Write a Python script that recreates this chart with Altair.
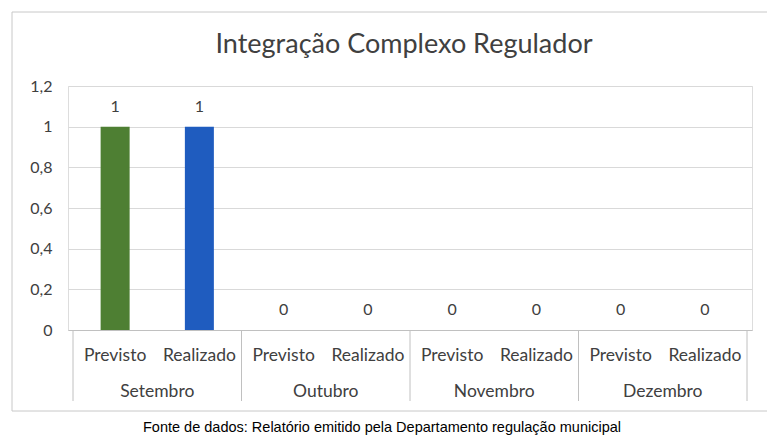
import altair as alt
import pandas as pd

months = ["Setembro", "Outubro", "Novembro", "Dezembro"]
series = ["Previsto", "Realizado"]
previsto = [1, 0, 0, 0]
realizado = [1, 0, 0, 0]
colors = ["#4e7f33", "#1f5cbf"]
y_ticks = [0, 0.2, 0.4, 0.6, 0.8, 1.0, 1.2]
title_text = "Integração Complexo Regulador"
source_text = "Fonte de dados: Relatório emitido pela Departamento regulação municipal"

rows = []
for i, m in enumerate(months):
    for j, (s, vals) in enumerate(zip(series, [previsto, realizado])):
        rows.append({"mes": m, "serie": s, "valor": vals[i], "pos": i * 2 + j + 0.5})
df = pd.DataFrame(rows)
mdf = pd.DataFrame({"mes": months, "centro": [i * 2 + 1 for i in range(len(months))]})
bdf = pd.DataFrame({"limite": [i * 2 for i in range(len(months) + 1)]})
one = pd.DataFrame({"k": [0]})

W, H = 684, 244
FONT = "Lato"
TXT = "#404040"
xs = alt.Scale(domain=[0, 8], nice=False, zero=False)
ys = alt.Scale(domain=[0, 1.2], nice=False)

base = alt.Chart(df)

bars = base.mark_bar(orient="vertical", width=29).encode(
    x=alt.X("pos:Q", scale=xs,
            axis=alt.Axis(labels=False, ticks=False, grid=False, domainColor="#c0c0c0", title=None)),
    y=alt.Y("valor:Q", scale=ys,
            axis=alt.Axis(values=y_ticks, labelExpr="replace(format(datum.value, '~g'), '.', ',')",
                          domain=False, ticks=False, grid=True, gridColor="#d9d9d9",
                          labelFont=FONT, labelFontSize=16, labelColor=TXT, labelPadding=16,
                          title=None)),
    color=alt.Color("serie:N", scale=alt.Scale(domain=series, range=colors), legend=None),
)

vals = base.mark_text(font=FONT, fontSize=16, color=TXT, dy=-15, baseline="alphabetic").encode(
    x=alt.X("pos:Q", scale=xs), y=alt.Y("valor:Q", scale=ys), text=alt.Text("valor:Q")
)

sub = base.mark_text(font=FONT, fontSize=17.5, color=TXT, baseline="middle").encode(
    x=alt.X("pos:Q", scale=xs), y=alt.value(H + 26), text="serie:N"
)

mon = alt.Chart(mdf).mark_text(font=FONT, fontSize=17.5, color=TXT, baseline="middle").encode(
    x=alt.X("centro:Q", scale=xs), y=alt.value(H + 62), text="mes:N"
)

seps = alt.Chart(bdf).mark_rule(color="#c0c0c0", strokeWidth=1).encode(
    x=alt.X("limite:Q", scale=xs), y=alt.value(H), y2=alt.value(H + 71)
)

frame = alt.Chart(one).mark_rect(filled=False, stroke="#c8c8c8", strokeWidth=1).encode(
    x=alt.value(-56), x2=alt.value(W + 40), y=alt.value(-74), y2=alt.value(H + 81)
)

title = alt.Chart(one).mark_text(font=FONT, fontSize=27, color=TXT, baseline="alphabetic").encode(
    x=alt.value(W / 2 - 6), y=alt.value(-33), text=alt.value(title_text)
)

src = alt.Chart(one).mark_text(font="Liberation Sans", fontSize=14.5, color="#000000",
                               baseline="alphabetic").encode(
    x=alt.value(W / 2 - 28), y=alt.value(H + 102), text=alt.value(source_text)
)

chart = alt.layer(frame, bars, vals, sub, mon, seps, title, src).properties(
    width=W, height=H,
    autosize=alt.AutoSizeParams(type="none"),
    padding={"left": 60, "top": 78, "right": 15, "bottom": 105},
).configure_view(stroke=None).configure(background="white")

chart.save("out.html", embed_options={"renderer": "svg", "actions": False})
